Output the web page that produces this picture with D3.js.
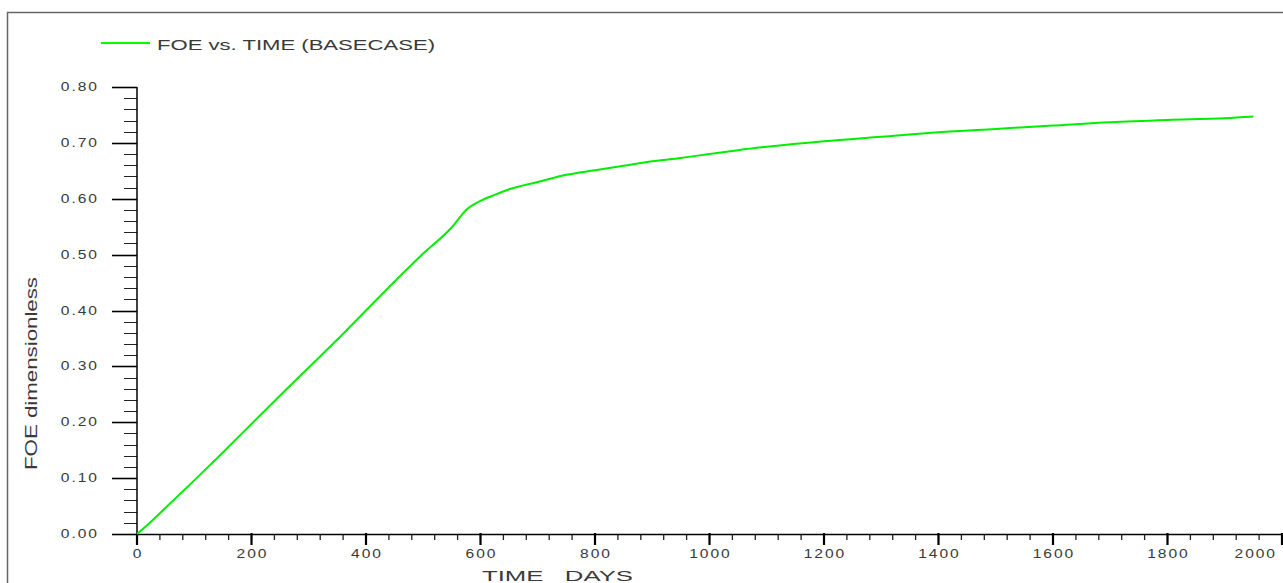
<!DOCTYPE html>
<html><head><meta charset="utf-8">
<script src="https://cdn.jsdelivr.net/npm/d3@7"></script>
<style>html,body{margin:0;padding:0;background:#fff;overflow:hidden}</style>
</head><body>
<svg id="c" width="1283" height="583"></svg>
<script>
const days = [0,20,50,100,150,200,250,300,350,400,450,500,550,575,600,625,650,700,750,800,850,900,950,1000,1050,1100,1200,1300,1400,1500,1600,1700,1800,1900,1950];
const foe  = [0,0.018,0.047,0.096,0.146,0.197,0.248,0.298,0.348,0.400,0.452,0.502,0.549,0.580,0.596,0.607,0.617,0.630,0.643,0.651,0.659,0.667,0.673,0.680,0.687,0.693,0.703,0.711,0.719,0.725,0.731,0.737,0.741,0.744,0.747];
const xTicks = [0,200,400,600,800,1000,1200,1400,1600,1800,2000];
const yTicks = [0,0.1,0.2,0.3,0.4,0.5,0.6,0.7,0.8];
const yTickLabels = ["0.00","0.10","0.20","0.30","0.40","0.50","0.60","0.70","0.80"];
const seriesName = "FOE vs. TIME (BASECASE)";

const svg = d3.select("#c");
const x = d3.scaleLinear().domain([0,2000]).range([137,1282]);
const y = d3.scaleLinear().domain([0,0.8]).range([534,87]);
const textCol = "#3a3a3a";
const font = "'Liberation Sans', Arial, sans-serif";

// frame
svg.append("rect").attr("x",7.5).attr("y",12.5).attr("width",1300).attr("height",620)
  .attr("fill","none").attr("stroke","#666").attr("stroke-width",1.5);

// y axis ticks
const yMinor = d3.range(0,0.8001,0.02);
svg.append("g").selectAll("line").data(yMinor).join("line")
  .attr("x1",124).attr("x2",137).attr("y1",d=>Math.round(y(d))+0.5).attr("y2",d=>Math.round(y(d))+0.5)
  .attr("stroke","#222").attr("stroke-width",1);
svg.append("g").selectAll("line").data(yTicks).join("line")
  .attr("x1",112).attr("x2",137).attr("y1",d=>Math.round(y(d))+0.5).attr("y2",d=>Math.round(y(d))+0.5)
  .attr("stroke","#000").attr("stroke-width",1.6);
svg.append("line").attr("x1",x(0)).attr("x2",x(0)).attr("y1",y(0.8)).attr("y2",y(0))
  .attr("stroke","#000").attr("stroke-width",1.5);
// x axis
const xMinor = d3.range(0,2000.1,40);
svg.append("g").selectAll("line").data(xMinor).join("line")
  .attr("x1",d=>x(d)).attr("x2",d=>x(d)).attr("y1",534).attr("y2",540)
  .attr("stroke","#222").attr("stroke-width",1.3);
svg.append("g").selectAll("line").data(xTicks).join("line")
  .attr("x1",d=>x(d)).attr("x2",d=>x(d)).attr("y1",533).attr("y2",545)
  .attr("stroke","#000").attr("stroke-width",2.2);
svg.append("line").attr("x1",x(0)).attr("x2",x(2000)).attr("y1",534.5).attr("y2",534.5)
  .attr("stroke","#000").attr("stroke-width",1.5);

// tick labels
svg.append("g").selectAll("text").data(yTicks).join("text")
  .attr("transform",d=>`translate(99,${y(d)+4}) scale(1.3,1)`)
  .attr("text-anchor","end").attr("font-family",font).attr("font-size",12)
  .attr("letter-spacing","1.5px").attr("fill",textCol)
  .text((d,i)=>yTickLabels[i]);
svg.append("g").selectAll("text").data(xTicks).join("text")
  .attr("transform",(d,i)=> i===xTicks.length-1 ? `translate(1277,558) scale(1.3,1)` : `translate(${x(d)+1},558) scale(1.3,1)`)
  .attr("text-anchor",(d,i)=> i===xTicks.length-1 ? "end" : "middle")
  .attr("font-family",font).attr("font-size",12)
  .attr("letter-spacing","1.5px").attr("fill",textCol)
  .text(d=>String(d));

// axis titles
svg.append("text").attr("x",482).attr("y",581).attr("font-family",font).attr("font-size",14)
  .attr("fill",textCol).attr("textLength",151).attr("lengthAdjust","spacingAndGlyphs")
  .style("white-space","pre").text("TIME   DAYS");
svg.append("text").attr("transform","translate(37,470) rotate(-90)")
  .attr("font-family",font).attr("font-size",17).attr("fill",textCol)
  .attr("textLength",193).attr("lengthAdjust","spacingAndGlyphs")
  .text("FOE  dimensionless");

// legend
svg.append("line").attr("x1",101).attr("x2",150).attr("y1",43).attr("y2",43)
  .attr("stroke","#00ff00").attr("stroke-width",2);
svg.append("text").attr("x",157).attr("y",50).attr("font-family",font).attr("font-size",15.5)
  .attr("fill",textCol).attr("textLength",278).attr("lengthAdjust","spacingAndGlyphs")
  .text(seriesName);

// series
const line = d3.line().x((d,i)=>x(days[i])).y(d=>y(d)).curve(d3.curveMonotoneX);
svg.append("path").datum(foe).attr("d",line).attr("fill","none")
  .attr("stroke","#00ee00").attr("stroke-width",2);
</script>
</body></html>
